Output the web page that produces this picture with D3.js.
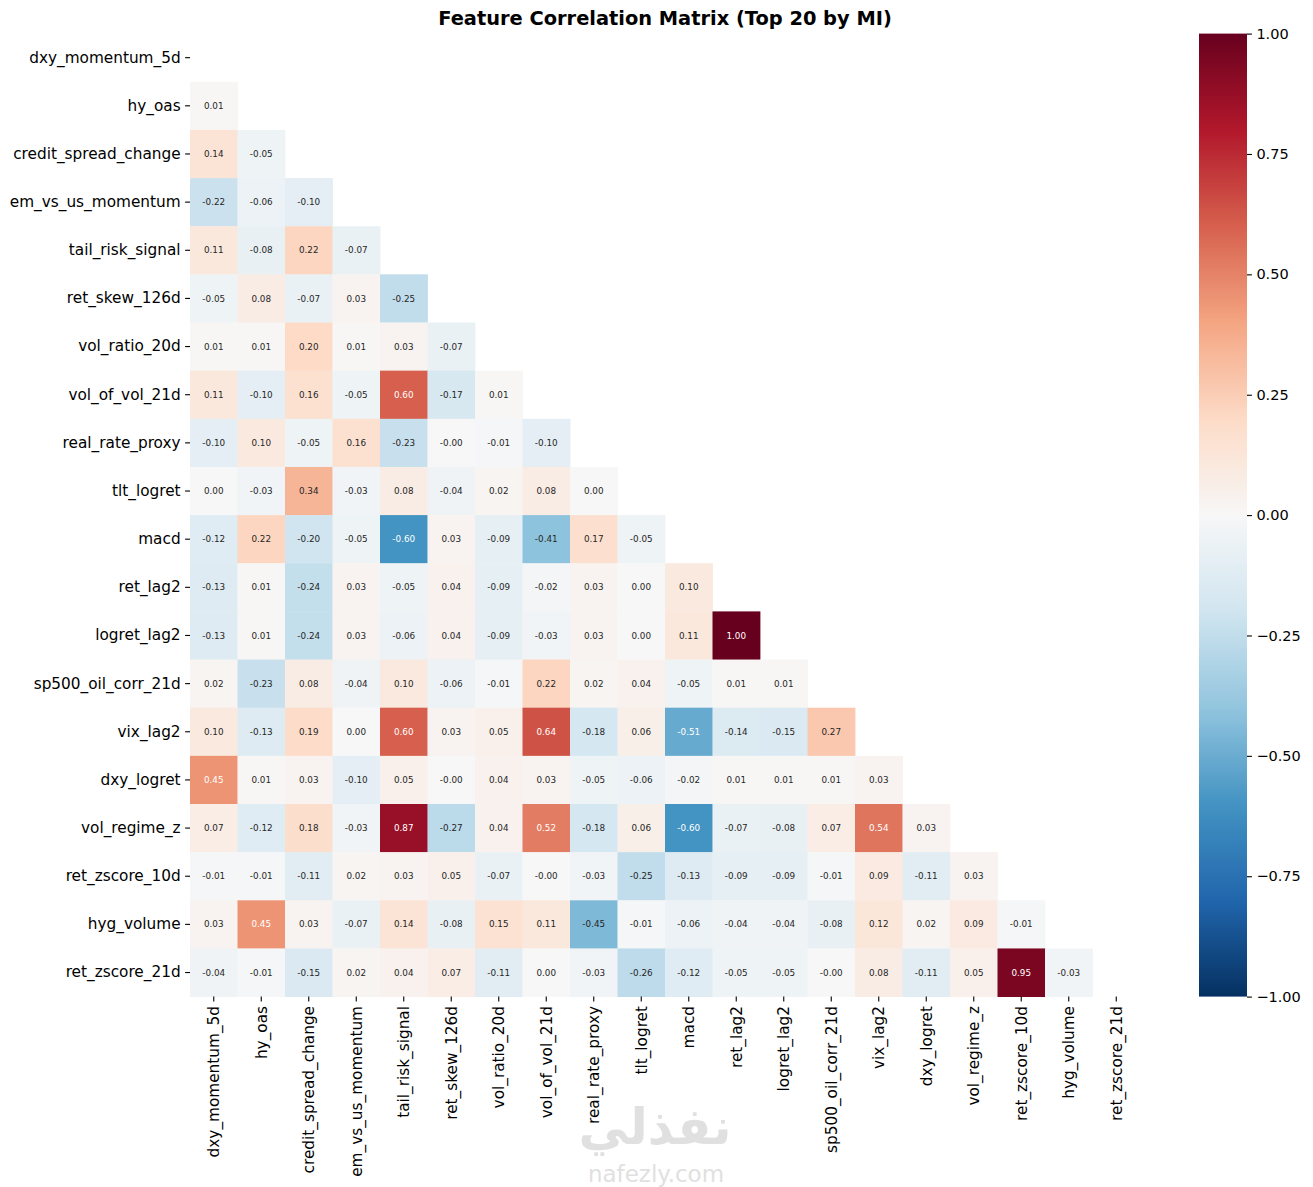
<!DOCTYPE html>
<html>
<head>
<meta charset="utf-8">
<script src="https://cdn.jsdelivr.net/npm/d3@7"></script>
<style>
  body { margin: 0; background: white; }
  svg text { font-family: "DejaVu Sans", sans-serif; }
</style>
</head>
<body>
<div id="chart"></div>
<script>
// feature names, same order on both axes
const features = [
  "dxy_momentum_5d", "hy_oas", "credit_spread_change", "em_vs_us_momentum",
  "tail_risk_signal", "ret_skew_126d", "vol_ratio_20d", "vol_of_vol_21d",
  "real_rate_proxy", "tlt_logret", "macd", "ret_lag2", "logret_lag2",
  "sp500_oil_corr_21d", "vix_lag2", "dxy_logret", "vol_regime_z",
  "ret_zscore_10d", "hyg_volume", "ret_zscore_21d"
];

// lower triangle, row i holds correlations with columns 0..i-1
// (-0.001 = a small negative value shown as "-0.00")
const lowerRows = [
  [],
  [0.01],
  [0.14, -0.05],
  [-0.22, -0.06, -0.10],
  [0.11, -0.08, 0.22, -0.07],
  [-0.05, 0.08, -0.07, 0.03, -0.25],
  [0.01, 0.01, 0.20, 0.01, 0.03, -0.07],
  [0.11, -0.10, 0.16, -0.05, 0.60, -0.17, 0.01],
  [-0.10, 0.10, -0.05, 0.16, -0.23, -0.001, -0.01, -0.10],
  [0.00, -0.03, 0.34, -0.03, 0.08, -0.04, 0.02, 0.08, 0.00],
  [-0.12, 0.22, -0.20, -0.05, -0.60, 0.03, -0.09, -0.41, 0.17, -0.05],
  [-0.13, 0.01, -0.24, 0.03, -0.05, 0.04, -0.09, -0.02, 0.03, 0.00, 0.10],
  [-0.13, 0.01, -0.24, 0.03, -0.06, 0.04, -0.09, -0.03, 0.03, 0.00, 0.11, 1.00],
  [0.02, -0.23, 0.08, -0.04, 0.10, -0.06, -0.01, 0.22, 0.02, 0.04, -0.05, 0.01, 0.01],
  [0.10, -0.13, 0.19, 0.00, 0.60, 0.03, 0.05, 0.64, -0.18, 0.06, -0.51, -0.14, -0.15, 0.27],
  [0.45, 0.01, 0.03, -0.10, 0.05, -0.001, 0.04, 0.03, -0.05, -0.06, -0.02, 0.01, 0.01, 0.01, 0.03],
  [0.07, -0.12, 0.18, -0.03, 0.87, -0.27, 0.04, 0.52, -0.18, 0.06, -0.60, -0.07, -0.08, 0.07, 0.54, 0.03],
  [-0.01, -0.01, -0.11, 0.02, 0.03, 0.05, -0.07, -0.001, -0.03, -0.25, -0.13, -0.09, -0.09, -0.01, 0.09, -0.11, 0.03],
  [0.03, 0.45, 0.03, -0.07, 0.14, -0.08, 0.15, 0.11, -0.45, -0.01, -0.06, -0.04, -0.04, -0.08, 0.12, 0.02, 0.09, -0.01],
  [-0.04, -0.01, -0.15, 0.02, 0.04, 0.07, -0.11, 0.00, -0.03, -0.26, -0.12, -0.05, -0.05, -0.001, 0.08, -0.11, 0.05, 0.95, -0.03]
];

const colorbarTicks = [1, 0.75, 0.5, 0.25, 0, -0.25, -0.5, -0.75, -1];

// RdBu_r colour stops (ColorBrewer 11 class)
const rdbuStops = ["#053061", "#2166ac", "#4393c3", "#92c5de", "#d1e5f0", "#f7f7f7",
                   "#fddbc7", "#f4a582", "#d6604d", "#b2182b", "#67001f"];

const W = 1313, H = 1187;
const heat = { left: 190, top: 33.6, width: 950, height: 963 };
const cbar = { left: 1199, top: 33.6, width: 48, height: 963 };
const FONT = "'DejaVu Sans', sans-serif";

const svg = d3.select("#chart").append("svg")
    .attr("width", W)
    .attr("height", H)
    .attr("font-family", FONT);

const color = d3.scaleLinear()
    .domain(d3.range(rdbuStops.length).map(i => -1 + 2 * i / (rdbuStops.length - 1)))
    .range(rdbuStops)
    .interpolate(d3.interpolateRgb)
    .clamp(true);

const x = d3.scaleBand().domain(features).range([heat.left, heat.left + heat.width]);
const y = d3.scaleBand().domain(features).range([heat.top, heat.top + heat.height]);

// flatten lower triangle into cells
const cells = [];
lowerRows.forEach((row, i) => {
  row.forEach((v, j) => cells.push({ row: features[i], col: features[j], value: v }));
});

const g = svg.append("g");

g.selectAll("rect.cell")
    .data(cells)
    .enter()
    .append("rect")
    .attr("class", "cell")
    .attr("x", d => x(d.col))
    .attr("y", d => y(d.row))
    .attr("width", x.bandwidth() + 0.4)
    .attr("height", y.bandwidth() + 0.4)
    .attr("fill", d => color(d.value));

// annotation text colour like seaborn: dark on light cells, white on dark
function textColor(v) {
  const c = d3.rgb(color(v));
  const lin = ch => { ch /= 255; return ch <= 0.03928 ? ch / 12.92 : Math.pow((ch + 0.055) / 1.055, 2.4); };
  const lum = 0.2126 * lin(c.r) + 0.7152 * lin(c.g) + 0.0722 * lin(c.b);
  return lum > 0.408 ? "#262626" : "#ffffff";
}

g.selectAll("text.annot")
    .data(cells)
    .enter()
    .append("text")
    .attr("class", "annot")
    .attr("x", d => x(d.col) + x.bandwidth() / 2)
    .attr("y", d => y(d.row) + y.bandwidth() / 2)
    .attr("text-anchor", "middle")
    .attr("dy", "0.35em")
    .style("font-size", "8.8px")
    .attr("fill", d => textColor(d.value))
    .text(d => d.value.toFixed(2));

// axes
const yAxis = svg.append("g")
    .attr("transform", `translate(${heat.left},0)`)
    .call(d3.axisLeft(y).tickSize(4.9).tickPadding(4.5))
    .attr("font-family", FONT);
yAxis.select(".domain").remove();
yAxis.selectAll("text").style("font-size", "15.3px").attr("fill", "#000");
yAxis.selectAll("line").attr("stroke", "#000").attr("stroke-width", 1.1);

const xAxis = svg.append("g")
    .attr("transform", `translate(0,${heat.top + heat.height})`)
    .call(d3.axisBottom(x).tickSize(4.9).tickPadding(4.5))
    .attr("font-family", FONT);
xAxis.select(".domain").remove();
xAxis.selectAll("line").attr("stroke", "#000").attr("stroke-width", 1.1);
xAxis.selectAll("text")
    .style("font-size", "15.3px")
    .attr("fill", "#000")
    .attr("transform", "rotate(-90)")
    .attr("text-anchor", "end")
    .attr("x", -9.4)
    .attr("y", 0)
    .attr("dy", "0.35em");

// title
svg.append("text")
    .attr("x", heat.left + heat.width / 2)
    .attr("y", 25)
    .attr("text-anchor", "middle")
    .style("font-size", "19.4px")
    .style("font-weight", "bold")
    .text("Feature Correlation Matrix (Top 20 by MI)");

// colorbar
const cScale = d3.scaleLinear().domain([-1, 1]).range([cbar.top + cbar.height, cbar.top]);

const defs = svg.append("defs");
const grad = defs.append("linearGradient")
    .attr("id", "cbarGrad")
    .attr("x1", 0).attr("y1", 1).attr("x2", 0).attr("y2", 0);
grad.selectAll("stop")
    .data(d3.range(0, 1.0001, 0.02))
    .enter()
    .append("stop")
    .attr("offset", d => d)
    .attr("stop-color", d => color(-1 + 2 * d));

svg.append("rect")
    .attr("x", cbar.left)
    .attr("y", cbar.top)
    .attr("width", cbar.width)
    .attr("height", cbar.height)
    .attr("fill", "url(#cbarGrad)");

const cAxis = svg.append("g")
    .attr("transform", `translate(${cbar.left + cbar.width},0)`)
    .call(d3.axisRight(cScale)
        .tickValues(colorbarTicks)
        .tickSize(4.9)
        .tickPadding(4.5)
        .tickFormat(d => d.toFixed(2).replace("-", "\u2212")))
    .attr("font-family", FONT);
cAxis.select(".domain").remove();
cAxis.selectAll("line").attr("stroke", "#000").attr("stroke-width", 1.1);
cAxis.selectAll("text").style("font-size", "14.5px").attr("fill", "#000");

// watermark
const wm = svg.append("g").attr("opacity", 0.55).attr("pointer-events", "none");
wm.append("text")
    .attr("x", 655)
    .attr("y", 1144)
    .attr("text-anchor", "middle")
    .style("font-size", "50px")
    .style("font-weight", "bold")
    .attr("fill", "#c8c8c8")
    .text("نفذلي");
wm.append("text")
    .attr("x", 656)
    .attr("y", 1182)
    .attr("text-anchor", "middle")
    .style("font-size", "23px")
    .attr("fill", "#c8c8c8")
    .text("nafezly.com");
</script>
</body>
</html>
